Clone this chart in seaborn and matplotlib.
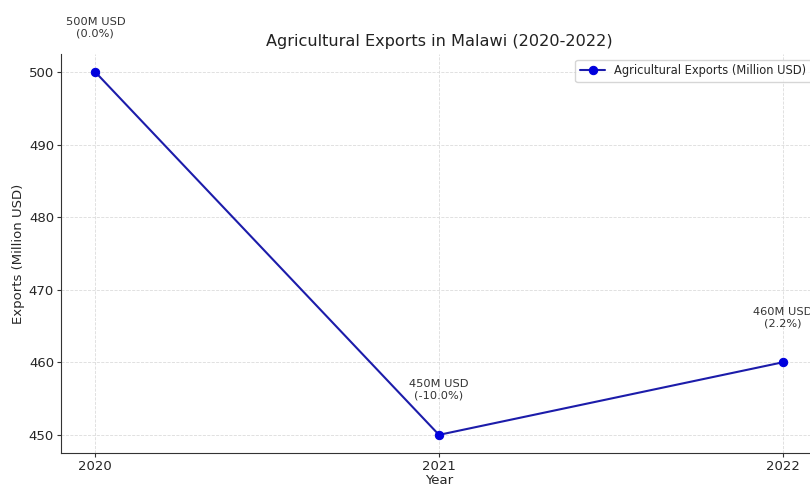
import matplotlib
matplotlib.use("Agg")
import matplotlib.pyplot as plt
import seaborn as sns
import pandas as pd

years = [2020, 2021, 2022]
exports = [500, 450, 460]
pct_change = [0.0, -10.0, 2.2]

sns.set_style("whitegrid", {"grid.linestyle": "--", "grid.color": "#d9d9d9",
                            "axes.edgecolor": "#333333"})
plt.rcParams['font.family'] = ['DejaVu Sans']

df = pd.DataFrame({"Year": years, "Exports": exports})

fig = plt.figure(figsize=(8.1, 4.87), dpi=100)
# axes runs a little past the right edge, like the reference crop
ax = fig.add_axes([61 / 810, 1 - 453 / 487, 756 / 810, 399 / 487])

sns.lineplot(data=df, x="Year", y="Exports", ax=ax, color="#1c1caa", lw=1.5,
             marker="o", markersize=6, markerfacecolor="#0000dd",
             markeredgecolor="#0000dd", label="Agricultural Exports (Million USD)")

for x, y, p in zip(years, exports, pct_change):
    ax.annotate(f"{y}M USD\n({p:.1f}%)", (x, y), textcoords="offset pixels",
                xytext=(0, 34), ha="center", va="bottom", fontsize=8.2,
                color="#333333")

ax.set_xticks(years)
ax.set_title("Agricultural Exports in Malawi (2020-2022)", fontsize=11.6,
             color="#222222", pad=6)
ax.set_xlabel("Year", fontsize=9.5, labelpad=1)
ax.set_ylabel("Exports (Million USD)", fontsize=9.5, labelpad=3)
ax.tick_params(labelsize=9.5, pad=2, length=3, width=0.8, color="#333333",
               bottom=True, left=True)
ax.grid(True, linestyle="--", linewidth=0.6, color="#dcdcdc")
sns.despine(ax=ax, top=True, right=True)
ax.legend(loc="upper right", fontsize=8.3, frameon=True, handlelength=2.2)

fig.savefig("out.png", dpi=100)
plt.close()
